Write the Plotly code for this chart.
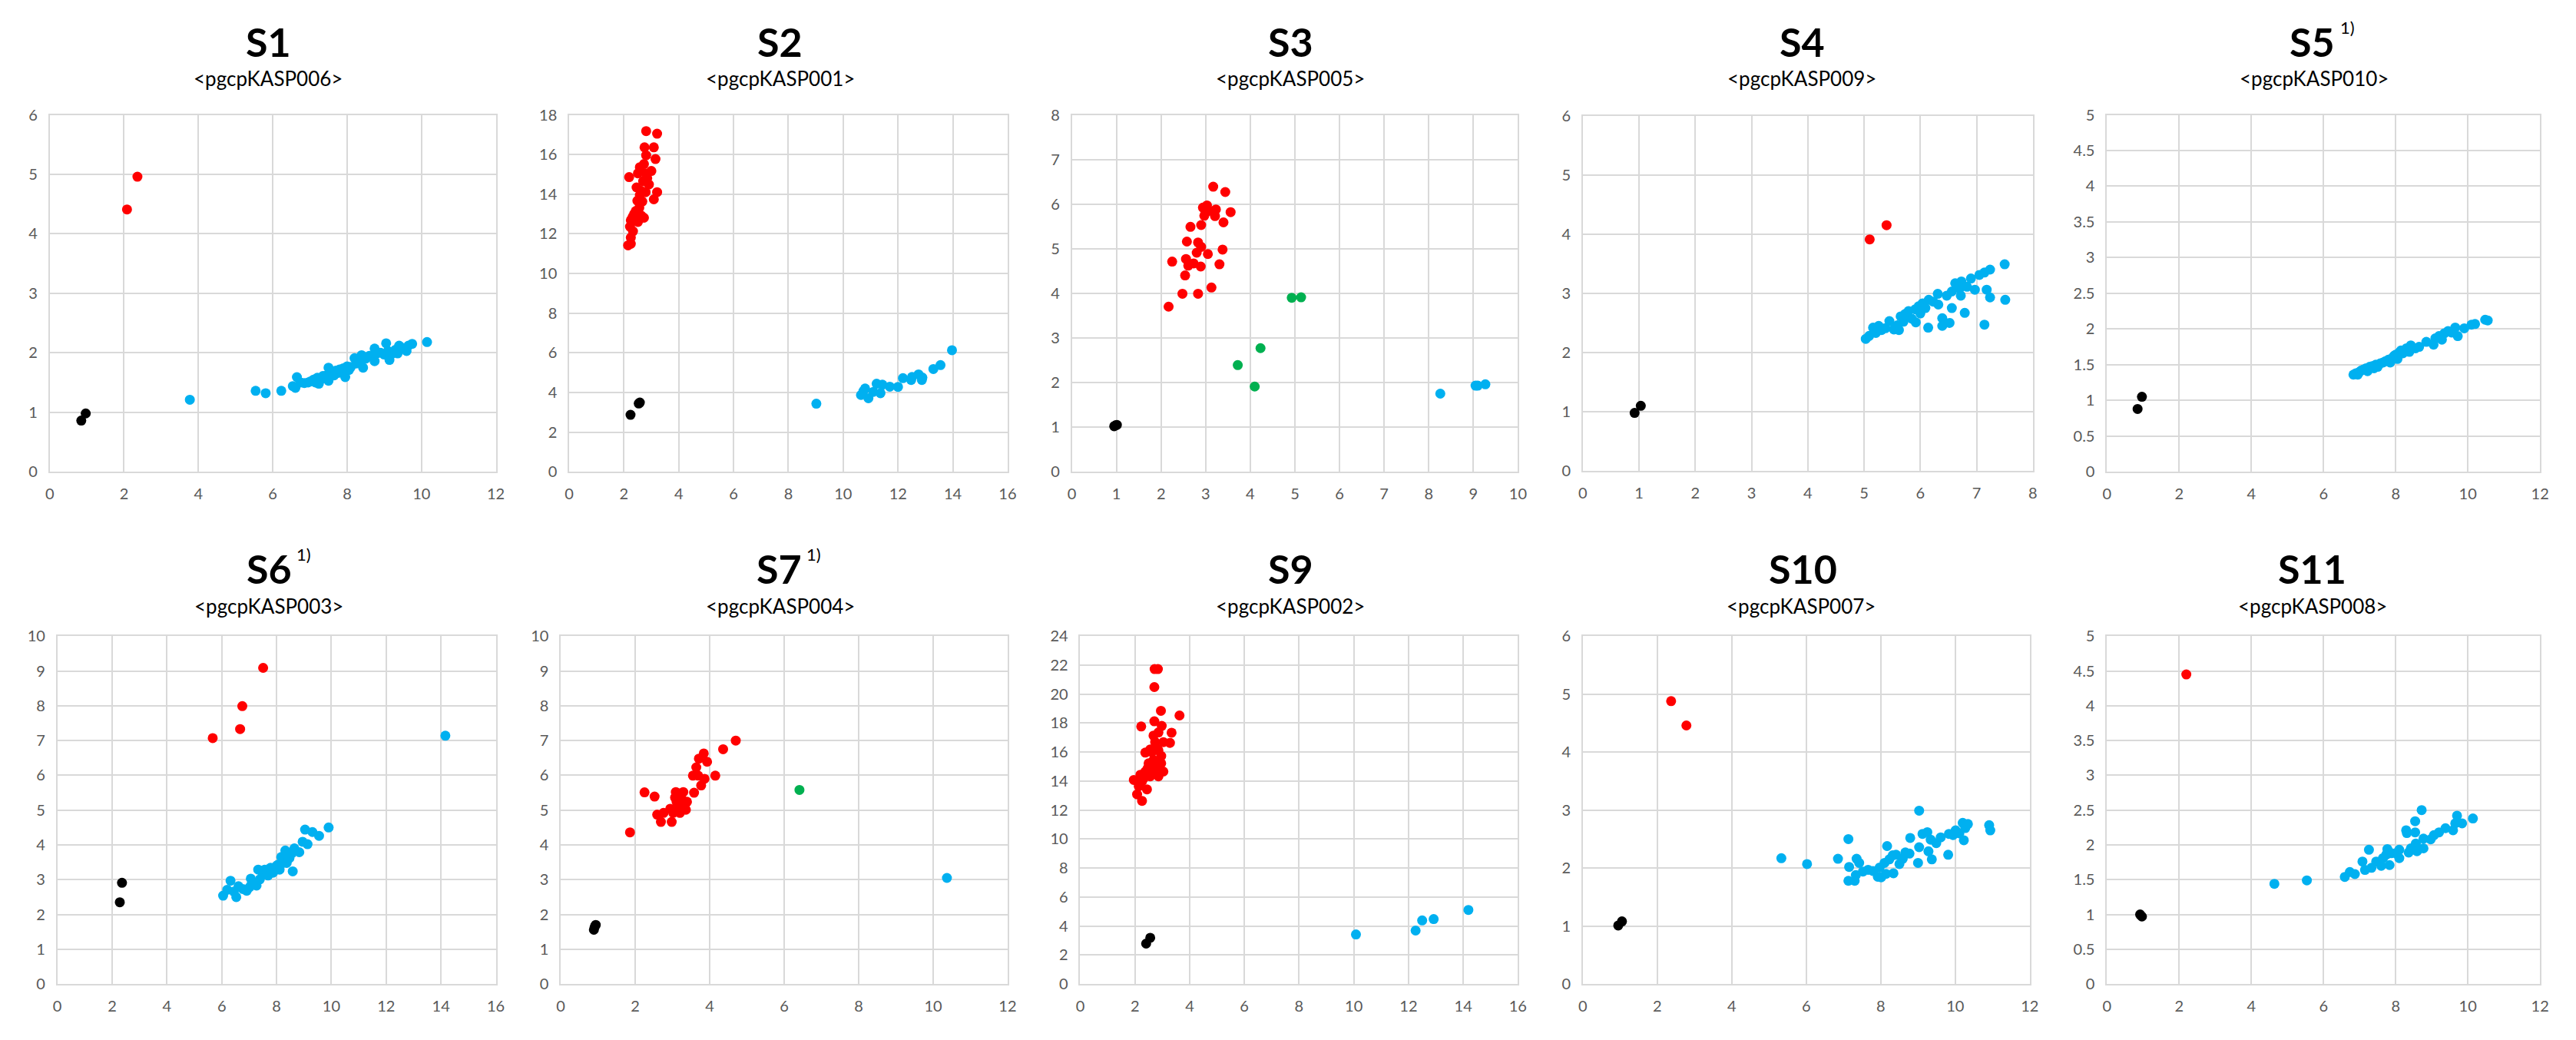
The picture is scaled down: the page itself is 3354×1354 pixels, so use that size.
import plotly.graph_objects as go

# ---------------- data (x, y) ----------------
s1_blue = [(3.77,1.21),(5.54,1.36),(5.81,1.32),(6.23,1.36),(6.54,1.44),(6.61,1.41),(6.65,1.59),
           (6.75,1.50),(6.85,1.49),(6.95,1.50),(7.02,1.52),(7.10,1.55),(7.15,1.50),(7.20,1.58),
           (7.24,1.48),(7.30,1.56),(7.35,1.61),(7.40,1.57),(7.45,1.62),(7.50,1.53),(7.50,1.75),
           (7.55,1.64),(7.60,1.68),(7.65,1.62),(7.70,1.70),(7.75,1.66),(7.80,1.72),(7.85,1.68),
           (7.90,1.74),(7.95,1.59),(8.00,1.77),(8.05,1.71),(8.10,1.76),(8.20,1.91),(8.25,1.82),
           (8.35,1.85),(8.39,1.96),(8.43,1.75),(8.50,1.90),(8.60,1.95),(8.70,1.93),(8.74,2.07),
           (8.74,1.86),(8.80,1.99),(8.90,2.00),(9.00,1.97),(9.05,2.16),(9.10,2.03),(9.14,1.88),
           (9.20,1.98),(9.30,2.05),(9.36,1.99),(9.40,2.12),(9.50,2.08),(9.60,2.03),(9.65,2.12),
           (9.75,2.15),(10.15,2.18)]
s1_red = [(2.36,4.96),(2.08,4.41)]
s1_black = [(0.97,0.98),(0.85,0.86)]

s2_blue = [(9.02,3.43),(10.65,3.87),(10.74,4.07),(10.80,4.20),(10.92,3.71),(11.10,4.03),(11.22,4.44),
           (11.36,3.96),(11.43,4.39),(11.70,4.29),(12.00,4.28),(12.18,4.72),(12.48,4.63),(12.51,4.78),
           (12.75,4.91),(12.87,4.63),(12.89,4.75),(13.29,5.18),(13.55,5.38),(13.97,6.13)]
s2_red = [(2.81,17.18),(3.21,17.05),(2.75,16.36),(3.09,16.36),(2.81,15.96),(3.15,15.77),(2.73,15.52),
          (3.00,15.17),(2.58,15.36),(2.51,15.05),(2.19,14.86),(2.85,14.81),(2.91,14.49),(2.46,14.34),
          (2.61,14.18),(2.79,14.10),(3.21,14.10),(3.09,13.74),(2.49,13.67),(2.67,13.63),(2.56,13.31),
          (2.43,13.15),(2.63,12.92),(2.31,12.84),(2.73,12.81),(2.25,12.68),(2.51,12.60),(2.22,12.36),
          (2.33,12.13),(2.25,11.81),(2.25,11.50),(2.15,11.42),(2.79,15.05),(2.70,14.65),(2.37,13.00),
          (2.58,13.95)]
s2_black = [(2.24,2.87),(2.58,3.49),(2.54,3.44)]

s3_blue = [(8.26,1.75),(9.05,1.93),(9.10,1.93),(9.27,1.96)]
s3_red = [(3.17,6.39),(3.44,6.27),(2.94,5.92),(3.03,5.97),(3.23,5.88),(3.56,5.82),(2.97,5.74),
          (3.21,5.73),(3.08,5.85),(3.40,5.59),(2.66,5.49),(2.90,5.53),(2.58,5.16),(2.83,5.14),
          (2.90,5.04),(2.80,4.91),(3.05,4.88),(3.38,4.98),(2.25,4.71),(2.56,4.77),(2.73,4.67),
          (2.61,4.62),(2.89,4.60),(3.31,4.65),(2.54,4.40),(3.13,4.13),(2.48,3.99),(2.83,3.99),
          (2.17,3.70)]
s3_green = [(4.93,3.90),(5.14,3.91),(4.23,2.77),(3.72,2.39),(4.10,1.91)]
s3_black = [(0.95,1.02),(1.01,1.05),(0.98,1.04)]

s4_blue = [(5.03,2.23),(5.09,2.28),(5.16,2.42),(5.21,2.33),(5.26,2.45),(5.31,2.38),(5.38,2.41),
           (5.45,2.53),(5.53,2.39),(5.59,2.46),(5.62,2.38),(5.65,2.61),(5.70,2.52),(5.73,2.65),
           (5.79,2.70),(5.85,2.57),(5.91,2.73),(5.92,2.51),(5.97,2.78),(6.00,2.66),(6.04,2.83),
           (6.09,2.75),(6.14,2.42),(6.15,2.89),(6.23,2.86),(6.31,2.99),(6.32,2.81),(6.39,2.58),
           (6.39,2.45),(6.47,2.96),(6.52,2.50),(6.56,2.75),(6.56,3.03),(6.62,3.17),(6.70,3.08),
           (6.72,2.96),(6.73,3.20),(6.79,2.67),(6.83,3.11),(6.90,3.25),(6.97,3.06),(7.05,3.31),
           (7.14,2.47),(7.14,3.35),(7.18,3.06),(7.24,3.40),(7.24,2.93),(7.50,3.49),(7.51,2.89)]
s4_red = [(5.10,3.91),(5.40,4.15)]
s4_black = [(0.92,0.98),(1.03,1.10)]

s5_blue = [(6.83,1.36),(6.90,1.38),(6.95,1.36),(7.00,1.40),(7.05,1.42),(7.10,1.43),(7.18,1.45),
           (7.22,1.41),(7.28,1.47),(7.35,1.48),(7.40,1.45),(7.45,1.50),(7.50,1.47),(7.58,1.52),
           (7.65,1.53),(7.72,1.55),(7.80,1.57),(7.85,1.53),(7.90,1.59),(7.95,1.62),(8.00,1.64),
           (8.05,1.58),(8.10,1.67),(8.15,1.70),(8.20,1.66),(8.30,1.73),(8.38,1.68),(8.42,1.77),
           (8.55,1.73),(8.65,1.75),(8.85,1.82),(9.05,1.78),(9.10,1.87),(9.20,1.90),(9.28,1.85),
           (9.35,1.94),(9.45,1.97),(9.55,1.95),(9.65,2.02),(9.72,1.90),(9.90,2.01),(10.10,2.06),
           (10.20,2.07),(10.48,2.13),(10.55,2.12)]
s5_black = [(0.85,0.88),(0.97,1.05)]

s6_blue = [(14.16,7.14),(6.05,2.54),(6.20,2.71),(6.32,2.97),(6.44,2.66),(6.53,2.50),(6.61,2.81),
           (6.77,2.73),(6.91,2.68),(7.01,2.78),(7.06,3.03),(7.09,2.87),(7.15,2.92),(7.27,2.83),
           (7.33,3.29),(7.39,3.01),(7.51,3.15),(7.57,3.29),(7.69,3.12),(7.78,3.34),(7.87,3.20),
           (7.99,3.39),(8.05,3.43),(8.11,3.29),(8.17,3.65),(8.23,3.48),(8.32,3.84),(8.37,3.48),
           (8.47,3.62),(8.56,3.76),(8.59,3.24),(8.65,3.90),(8.83,3.79),(8.95,4.09),(9.04,4.44),
           (9.13,4.02),(9.31,4.37),(9.55,4.26),(9.90,4.50)]
s6_red = [(7.51,9.09),(6.75,7.99),(6.67,7.33),(5.67,7.07)]
s6_black = [(2.36,2.91),(2.28,2.35)]

s7_blue = [(10.37,3.05)]
s7_red = [(1.86,4.36),(2.25,5.51),(2.52,5.39),(2.59,4.87),(2.69,4.66),(2.76,4.92),(2.94,5.04),
          (2.98,4.66),(3.02,4.92),(3.07,5.36),(3.09,5.52),(3.11,5.24),(3.16,5.48),(3.18,5.10),
          (3.20,4.92),(3.20,5.20),(3.24,5.34),(3.29,5.52),(3.33,5.10),(3.36,5.01),(3.39,5.24),
          (3.58,5.50),(3.55,5.99),(3.64,6.23),(3.69,5.99),(3.71,6.48),(3.77,5.71),(3.84,6.63),
          (3.86,5.90),(3.93,6.39),(4.15,5.99),(4.36,6.75),(4.70,7.00)]
s7_green = [(6.41,5.58)]
s7_black = [(0.89,1.56),(0.94,1.70),(0.91,1.64)]

s9_blue = [(10.08,3.42),(12.26,3.69),(12.50,4.39),(12.92,4.48),(14.19,5.11)]
s9_red = [(2.72,21.73),(2.84,21.73),(2.71,20.49),(2.95,18.85),(3.63,18.53),(2.23,17.77),(2.71,18.13),
          (2.98,17.81),(2.86,17.36),(3.34,17.34),(2.68,17.14),(3.04,16.69),(3.28,16.64),(2.80,16.24),
          (2.56,16.19),(2.38,15.97),(2.96,15.74),(2.68,15.45),(2.50,15.23),(2.96,15.23),(2.74,14.89),
          (3.04,14.66),(2.38,14.66),(2.20,14.44),(2.56,14.33),(2.86,14.33),(1.96,14.08),(2.26,13.99),
          (2.14,13.65),(2.44,13.43),(2.08,13.09),(2.26,12.64),(2.62,16.01),(2.74,16.69),(2.32,14.20),
          (2.68,14.66),(2.86,16.12),(2.47,14.89)]
s9_black = [(2.41,2.79),(2.56,3.19)]

s10_blue = [(5.33,2.17),(6.02,2.07),(6.85,2.16),(7.13,2.50),(7.15,2.02),(7.13,1.78),(7.30,1.78),
            (7.35,2.16),(7.42,2.09),(7.33,1.88),(7.52,1.94),(7.66,1.97),(7.79,1.95),(7.92,1.85),
            (7.97,2.01),(8.01,1.84),(8.10,2.09),(8.17,2.38),(8.14,1.90),(8.23,2.15),(8.32,2.22),
            (8.34,1.91),(8.41,2.23),(8.50,2.07),(8.59,2.16),(8.66,2.27),(8.77,2.25),(8.79,2.52),
            (9.00,2.09),(9.03,2.99),(9.03,2.36),(9.12,2.59),(9.25,2.62),(9.28,2.29),(9.34,2.49),
            (9.37,2.15),(9.49,2.43),(9.61,2.53),(9.81,2.23),(9.83,2.59),(9.94,2.57),(10.01,2.65),
            (10.11,2.60),(10.20,2.78),(10.23,2.48),(10.27,2.69),(10.34,2.76),(10.91,2.74),(10.94,2.65)]
s10_red = [(2.37,4.88),(2.78,4.46)]
s10_black = [(0.95,1.01),(1.05,1.08)]

s11_blue = [(4.64,1.44),(5.54,1.49),(6.59,1.54),(6.73,1.61),(6.87,1.58),(7.08,1.76),(7.15,1.64),
            (7.26,1.93),(7.33,1.67),(7.46,1.76),(7.60,1.70),(7.65,1.81),(7.74,1.86),(7.77,1.94),
            (7.83,1.71),(7.88,1.88),(8.01,1.88),(8.10,1.81),(8.10,1.93),(8.29,2.21),(8.31,2.17),
            (8.36,1.89),(8.42,1.95),(8.54,2.34),(8.54,2.18),(8.56,2.02),(8.59,1.91),(8.72,2.50),
            (8.77,1.95),(8.77,2.09),(8.97,2.08),(9.06,2.14),(9.20,2.18),(9.38,2.24),(9.59,2.21),
            (9.65,2.31),(9.70,2.42),(9.84,2.31),(10.14,2.38)]
s11_red = [(2.20,4.45)]
s11_black = [(0.92,1.00),(0.97,0.97)]

titles = ["S1", "S2", "S3", "S4", "S5", "S6", "S7", "S9", "S10", "S11"]
superscripts = ["", "", "", "", "1)", "1)", "1)", "", "", ""]
subtitles = ["pgcpKASP006", "pgcpKASP001", "pgcpKASP005", "pgcpKASP009", "pgcpKASP010",
             "pgcpKASP003", "pgcpKASP004", "pgcpKASP002", "pgcpKASP007", "pgcpKASP008"]
x_max = [12, 16, 10, 8, 12, 16, 12, 16, 12, 12]
x_step = [2, 2, 1, 1, 2, 2, 2, 2, 2, 2]
y_max = [6, 18, 8, 6, 5, 10, 10, 24, 6, 5]
y_step = [1, 2, 1, 1, 0.5, 1, 1, 2, 1, 0.5]

# ---------------- styling / layout ----------------
W, H = 3354, 1354
RED, BLUE, BLACK, GREEN = "#FF0000", "#00B0F0", "#000000", "#00B050"

series = [
    [(s1_blue, BLUE), (s1_red, RED), (s1_black, BLACK)],
    [(s2_blue, BLUE), (s2_red, RED), (s2_black, BLACK)],
    [(s3_blue, BLUE), (s3_red, RED), (s3_green, GREEN), (s3_black, BLACK)],
    [(s4_blue, BLUE), (s4_red, RED), (s4_black, BLACK)],
    [(s5_blue, BLUE), (s5_black, BLACK)],
    [(s6_blue, BLUE), (s6_red, RED), (s6_black, BLACK)],
    [(s7_blue, BLUE), (s7_red, RED), (s7_green, GREEN), (s7_black, BLACK)],
    [(s9_blue, BLUE), (s9_red, RED), (s9_black, BLACK)],
    [(s10_blue, BLUE), (s10_red, RED), (s10_black, BLACK)],
    [(s11_blue, BLUE), (s11_red, RED), (s11_black, BLACK)],
]

# plot boxes in pixels: left, right, top, bottom
boxes = [
    (59, 643, 139, 612), (739, 1313, 139, 612), (1397, 1981, 139, 612),
    (2066, 2655, 140, 611), (2752, 3319, 139, 612),
    (69, 643, 830, 1291), (728, 1313, 830, 1291), (1408, 1981, 830, 1291),
    (2066, 2651, 830, 1291), (2752, 3319, 830, 1291),
]
title_cx = [345, 1015, 1684, 2353, 3021, 346, 1014, 1684, 2354, 3021]
sub_cx = [345, 1015, 1683, 2353, 3023, 346, 1015, 1683, 2352, 3021]
title_y = [42] * 5 + [740] * 5
sub_y = [91] * 5 + [790] * 5

FONT = "Lato, 'Open Sans', sans-serif"
GRID = "#D9D9D9"

fig = go.Figure()
annotations = []
for i in range(10):
    sfx = "" if i == 0 else str(i + 1)
    for pts, color in series[i]:
        fig.add_trace(go.Scatter(
            x=[p[0] for p in pts], y=[p[1] for p in pts], mode="markers",
            marker=dict(color=color, size=13, line=dict(width=0)),
            xaxis="x" + sfx, yaxis="y" + sfx, showlegend=False, hoverinfo="x+y"))
    l, r, t, b = boxes[i]
    common = dict(showgrid=True, gridcolor=GRID, gridwidth=1.5, zeroline=False,
                  showline=True, linecolor=GRID, linewidth=1.5, mirror=True,
                  ticks="", ticklabelstandoff=10,
                  tickfont=dict(family=FONT, size=20, color="#595959"))
    fig.update_layout(**{
        "xaxis" + sfx: dict(domain=[l / W, r / W], range=[0, x_max[i]], dtick=x_step[i],
                            tick0=0, anchor="y" + sfx, **common),
        "yaxis" + sfx: dict(domain=[1 - b / H, 1 - t / H], range=[0, y_max[i]], dtick=y_step[i],
                            tick0=0, anchor="x" + sfx, **common),
    })
    annotations.append(dict(x=title_cx[i] / W, y=1 - title_y[i] / H, xref="paper", yref="paper",
                            text="<b>" + titles[i] + "</b>", showarrow=False,
                            xanchor="center", yanchor="middle",
                            font=dict(family=FONT, size=52, color="#000000")))
    if superscripts[i]:
        annotations.append(dict(x=(title_cx[i] + 34) / W, y=1 - (title_y[i] - 19) / H,
                                xref="paper", yref="paper", text=superscripts[i],
                                showarrow=False, xanchor="left", yanchor="middle",
                                font=dict(family=FONT, size=22, color="#000000")))
    annotations.append(dict(x=sub_cx[i] / W, y=1 - sub_y[i] / H, xref="paper", yref="paper",
                            text="&lt;" + subtitles[i] + "&gt;", showarrow=False,
                            xanchor="center", yanchor="middle",
                            font=dict(family=FONT, size=26, color="#000000")))

fig.update_layout(width=W, height=H, margin=dict(l=0, r=0, t=0, b=0),
                  paper_bgcolor="white", plot_bgcolor="white",
                  annotations=annotations, showlegend=False)

fig.write_html("out.html")
